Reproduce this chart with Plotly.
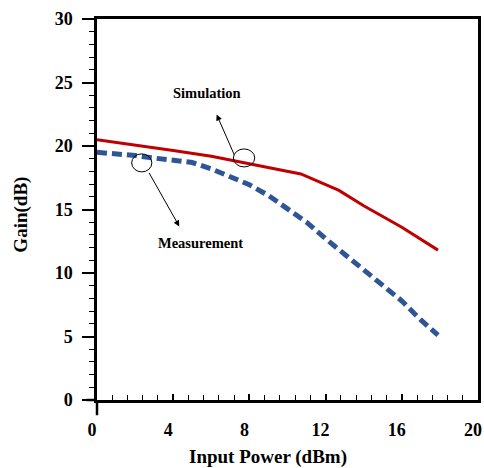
import plotly.graph_objects as go

sim_x = [0, 2, 4, 6, 8, 10, 10.7, 12.7, 14, 16, 17.9]
sim_y = [20.5, 20.1, 19.65, 19.2, 18.6, 18.0, 17.8, 16.5, 15.3, 13.6, 11.8]

meas_x = [0, 1, 2, 3, 4, 5, 6, 7, 8, 9, 10, 11, 12, 13, 14, 15, 16, 17, 17.9]
meas_y = [19.5, 19.4, 19.25, 19.05, 18.9, 18.7, 18.2, 17.6, 16.95, 16.1, 15.0, 14.0,
          12.7, 11.5, 10.3, 9.0, 7.8, 6.3, 5.1]

x_ticks = [0, 4, 8, 12, 16, 20]
y_ticks = [0, 5, 10, 15, 20, 25, 30]

FONT = "Liberation Serif, Times New Roman, serif"

fig = go.Figure()
fig.add_trace(go.Scatter(x=sim_x, y=sim_y, mode="lines", name="Simulation",
                         line=dict(color="#C00000", width=3)))
fig.add_trace(go.Scatter(x=meas_x, y=meas_y, mode="lines", name="Measurement",
                         line=dict(color="#2F5597", width=5, dash="10px,5px")))

# ellipses marking the curves
fig.add_shape(type="circle", xref="x", yref="y", x0=7.72 - 0.56, x1=7.72 + 0.56,
              y0=19.06 - 0.71, y1=19.06 + 0.71, line=dict(color="black", width=1))
fig.add_shape(type="circle", xref="x", yref="y", x0=2.35 - 0.53, x1=2.35 + 0.53,
              y0=18.67 - 0.71, y1=18.67 + 0.71, line=dict(color="black", width=1))

# axis line extensions at the origin
fig.add_shape(type="line", xref="paper", yref="paper", x0=-0.027, x1=0, y0=0, y1=0,
              line=dict(color="black", width=2.5))
fig.add_shape(type="line", xref="paper", yref="paper", x0=0, x1=0, y0=-0.04, y1=0,
              line=dict(color="black", width=2.5))

# arrows
fig.add_annotation(x=6.28, y=22.48, ax=7.24, ay=19.19, xref="x", yref="y",
                   axref="x", ayref="y", showarrow=True, arrowhead=2, arrowsize=1.2,
                   arrowwidth=1, arrowcolor="black", text="")
fig.add_annotation(x=4.32, y=13.67, ax=2.69, ay=18.0, xref="x", yref="y",
                   axref="x", ayref="y", showarrow=True, arrowhead=2, arrowsize=1.2,
                   arrowwidth=1, arrowcolor="black", text="")

fig.add_annotation(x=5.80, y=24.2, xref="x", yref="y", text="<b>Simulation</b>",
                   showarrow=False, font=dict(family=FONT, size=14.5, color="black"))
fig.add_annotation(x=5.41, y=12.36, xref="x", yref="y", text="<b>Measurement</b>",
                   showarrow=False, font=dict(family=FONT, size=14.5, color="black"))

# axis titles
fig.add_annotation(x=0.449, y=-0.1496, xref="paper", yref="paper", xanchor="center",
                   yanchor="middle", text="<b>Input Power (dBm)</b>", showarrow=False,
                   font=dict(family=FONT, size=19, color="black"))
fig.add_annotation(x=-0.2, y=0.486, xref="paper", yref="paper", xanchor="center",
                   yanchor="middle", text="<b>Gain(dB)</b>", textangle=-90, showarrow=False,
                   font=dict(family=FONT, size=19, color="black"))

fig.update_xaxes(range=[0, 20], tickvals=x_ticks, ticktext=[f"<b>{v}</b>" for v in x_ticks],
                 showgrid=False, zeroline=False, showline=True, mirror=True,
                 linecolor="black", linewidth=2.5, ticks="inside", ticklen=6,
                 tickwidth=1.5, tickcolor="black", automargin=False,
                 ticklabelstandoff=12, ticklabelshift=-5, ticklabeloverflow="allow",
                 minor=dict(dtick=0.8, tick0=0, ticks="inside", ticklen=5,
                            tickwidth=1.2, tickcolor="black"),
                 tickfont=dict(family=FONT, size=18, color="black"))
fig.update_yaxes(range=[0, 30], tickvals=y_ticks, ticktext=[f"<b>{v}</b>" for v in y_ticks],
                 showgrid=False, zeroline=False, showline=True, mirror=True,
                 linecolor="black", linewidth=2.5, ticks="outside", ticklen=12,
                 tickwidth=1.5, tickcolor="black", automargin=False,
                 ticklabelstandoff=6, ticklabeloverflow="allow",
                 minor=dict(dtick=1, tick0=0, ticks="outside", ticklen=5,
                            tickwidth=1.2, tickcolor="black"),
                 tickfont=dict(family=FONT, size=18, color="black"))

fig.update_layout(width=484, height=468, showlegend=False,
                  margin=dict(l=97, r=6, t=19, b=68, autoexpand=False),
                  plot_bgcolor="white", paper_bgcolor="white")

fig.write_html("out.html", config={"displayModeBar": False},
               post_script="document.body.style.margin='0';"
                           "document.body.style.overflow='hidden';")
